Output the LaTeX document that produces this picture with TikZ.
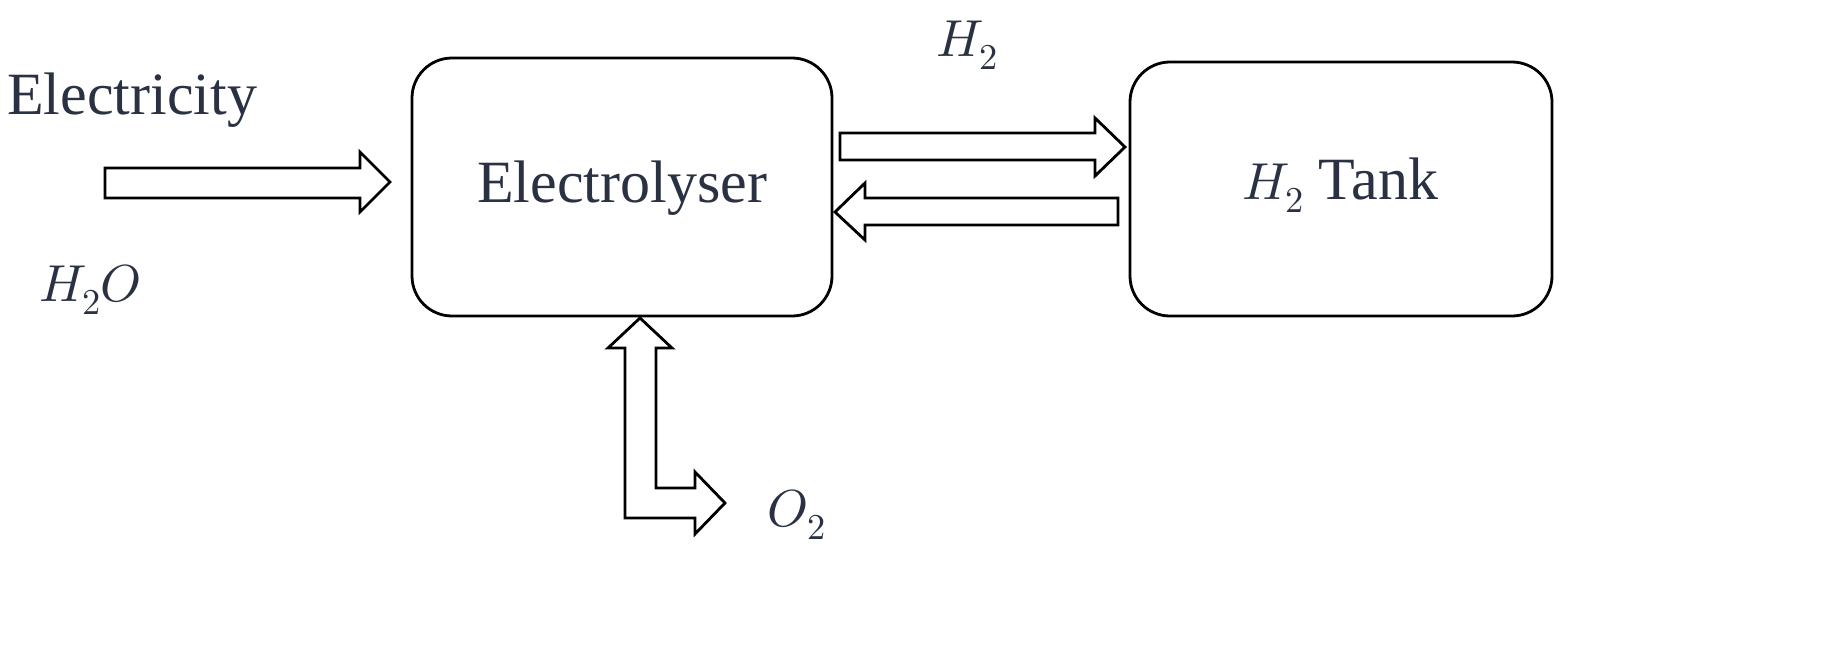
\documentclass[tikz,border=0pt]{standalone}
\usepackage{unicode-math}
\setmainfont{Liberation Serif}
\setmathfont{Latin Modern Math}
\definecolor{txt}{HTML}{2A3142}
\begin{document}
\begin{tikzpicture}[x=1pt,y=-1pt,
  box/.style={draw,line width=2.8pt,rounded corners=40pt},
  blk/.style={draw,line width=2.8pt,fill=white,line join=miter},
  lbl/.style={text=txt,font=\fontsize{60}{66}\selectfont},
  mlb/.style={text=txt,font=\fontsize{52}{58}\selectfont}]
\useasboundingbox (0,0) rectangle (1824,649);
\draw[box] (412,58) rectangle (832,316);
\node[lbl] (el) at (622,188) {Electrolyser};
\draw[box] (1130,62) rectangle (1552,316);
\node[lbl] (tank) at (1340,185) {{\fontsize{52}{58}\selectfont$H_2$} Tank};
\node[lbl] (elec) at (132,100) {Electricity};
\node[mlb] (h2o) at (90,290) {$H_2O$};
\node[mlb] (h2) at (967,45) {$H_2$};
\node[mlb] (o2) at (797,515) {$O_2$};
% Electricity arrow
\draw[blk] (105,168) -- (360,168) -- (360,152) -- (390,182) -- (360,212) -- (360,198) -- (105,198) -- cycle;
% H2 to tank
\draw[blk] (840,133) -- (1095,133) -- (1095,118) -- (1125,147) -- (1095,176) -- (1095,160) -- (840,160) -- cycle;
% back
\draw[blk] (1118,198) -- (865,198) -- (865,183) -- (835,212) -- (865,240) -- (865,225) -- (1118,225) -- cycle;
% O2 elbow
\draw[blk] (640,318) -- (672,348) -- (656,348) -- (656,488) -- (695,488) -- (695,472) -- (725,503) -- (695,534) -- (695,518) -- (625,518) -- (625,348) -- (608,348) -- cycle;
\end{tikzpicture}
\end{document}
